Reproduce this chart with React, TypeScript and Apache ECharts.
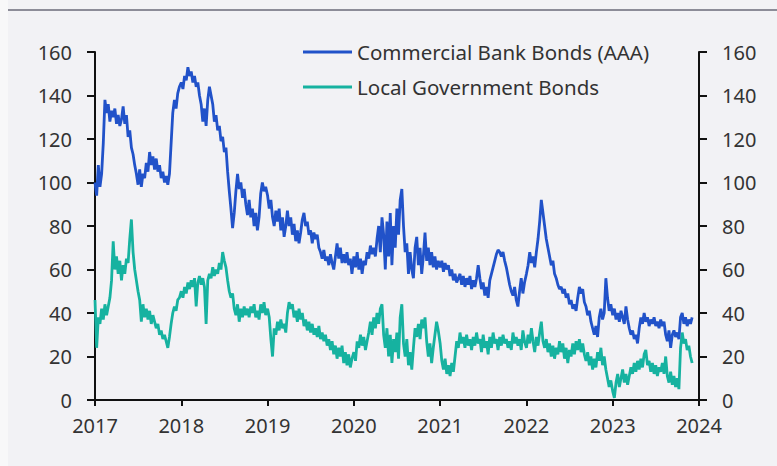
import React, { useEffect, useRef } from "react";
import * as echarts from "echarts";

// Weekly readings, 52 per year starting 2017
const commercialBank: number[] = [
  // 2017
  100, 94, 108, 98, 104, 118, 138, 132, 136, 128, 133, 130, 134, 127, 131, 126, 129, 135, 127, 131, 121, 124, 116, 113, 108, 104,
  99, 106, 98, 104, 102, 109, 105, 114, 108, 112, 106, 111, 105, 108, 102, 105, 100, 103, 99, 104, 118, 132, 138, 134, 141, 144,
  // 2018
  146, 143, 149, 147, 153, 149, 151, 146, 149, 144, 146, 140, 136, 128, 134, 126, 138, 144, 140, 136, 128, 131, 124, 126, 119, 121,
  114, 116, 105, 96, 88, 79, 86, 96, 104, 97, 100, 93, 97, 90, 85, 92, 84, 88, 80, 86, 78, 84, 95, 100, 96, 98,
  // 2019
  94, 88, 92, 84, 80, 87, 82, 88, 78, 84, 75, 80, 87, 80, 84, 76, 81, 73, 78, 72, 77, 83, 86, 80, 82, 76,
  78, 72, 77, 74, 76, 70, 68, 65, 69, 64, 66, 62, 67, 63, 60, 66, 72, 65, 70, 63, 67, 63, 68, 62, 65, 58,
  // 2020
  66, 61, 68, 60, 65, 58, 64, 62, 68, 65, 71, 67, 70, 66, 74, 80, 68, 84, 76, 60, 82, 66, 86, 62, 80, 70,
  88, 76, 92, 97, 80, 68, 72, 58, 68, 60, 56, 70, 75, 62, 70, 58, 66, 77, 64, 70, 62, 68, 61, 66, 60, 64,
  // 2021
  61, 64, 59, 63, 60, 62, 57, 60, 55, 58, 54, 56, 58, 53, 57, 52, 56, 53, 57, 51, 55, 52, 56, 62, 56, 51,
  54, 48, 52, 47, 55, 58, 61, 64, 67, 69, 68, 66, 68, 64, 61, 57, 53, 50, 48, 52, 46, 43, 50, 56, 49, 54,
  // 2022
  58, 62, 68, 63, 66, 61, 68, 74, 82, 92, 86, 80, 74, 70, 66, 62, 64, 58, 56, 53, 51, 52, 49, 51, 47, 49,
  44, 46, 42, 44, 41, 47, 52, 49, 51, 45, 43, 39, 41, 36, 33, 30, 34, 29, 38, 42, 37, 40, 56, 47, 41, 44,
  // 2023
  39, 42, 37, 40, 36, 41, 38, 35, 43, 37, 33, 30, 32, 28, 30, 26, 33, 38, 35, 40, 36, 38, 34, 37, 35, 38,
  34, 36, 33, 37, 34, 36, 30, 27, 32, 24, 30, 32, 29, 31, 28, 38, 40, 35, 38, 34, 37, 35, 38,
];

const localGovernment: number[] = [
  // 2017
  46, 24, 38, 35, 42, 37, 44, 39, 43, 47, 55, 73, 60, 66, 58, 64, 55, 62, 58, 65, 63, 74, 83, 68, 60, 55,
  50, 46, 36, 44, 38, 42, 37, 41, 35, 39, 36, 33, 35, 30, 32, 28, 30, 27, 24, 29, 35, 40, 43, 41, 46, 47,
  // 2018
  50, 47, 52, 49, 54, 51, 55, 52, 56, 43, 54, 57, 53, 56, 52, 35, 55, 58, 56, 61, 57, 60, 58, 63, 60, 68,
  64, 61, 55, 50, 47, 49, 42, 39, 44, 36, 42, 38, 43, 39, 42, 38, 43, 40, 44, 38, 41, 37, 44, 40, 45, 39,
  // 2019
  42, 38, 28, 20, 33, 30, 36, 32, 37, 33, 35, 31, 40, 45, 42, 44, 38, 41, 36, 42, 37, 40, 34, 37, 32, 36,
  31, 35, 30, 33, 29, 34, 28, 31, 27, 30, 25, 28, 23, 27, 21, 25, 19, 24, 20, 25, 17, 22, 16, 21, 15, 19,
  // 2020
  22, 18, 27, 24, 30, 25, 29, 23, 27, 31, 36, 30, 38, 33, 40, 35, 42, 44, 30, 24, 33, 20, 30, 17, 28, 22,
  31, 19, 38, 44, 26, 20, 28, 16, 22, 14, 24, 33, 29, 35, 28, 37, 33, 38, 27, 20, 26, 17, 24, 30, 36, 32,
  // 2021
  26, 18, 14, 19, 12, 16, 11, 17, 13, 20, 27, 24, 31, 26, 29, 24, 30, 25, 28, 23, 29, 25, 31, 26, 28, 22,
  30, 24, 27, 21, 29, 24, 31, 26, 28, 23, 29, 25, 30, 26, 28, 24, 27, 23, 31, 26, 29, 25, 28, 23, 32, 27,
  // 2022
  24, 30, 26, 33, 27, 22, 29, 25, 31, 36, 27, 24, 28, 22, 26, 20, 25, 19, 24, 21, 27, 22, 26, 19, 24, 17,
  23, 20, 26, 21, 27, 23, 28, 22, 26, 21, 18, 22, 16, 20, 14, 19, 15, 22, 18, 24, 16, 20, 14, 10, 6, 9,
  // 2023
  4, 1, 8, 12, 6, 10, 14, 8, 12, 7, 11, 15, 12, 17, 13, 18, 14, 19, 15, 21, 23, 16, 18, 13, 17, 12,
  16, 11, 15, 13, 17, 12, 20, 11, 8, 13, 7, 11, 6, 10, 5, 24, 31, 26, 28, 23, 25, 20, 17,
];

const yearTicks: number[] = [2017, 2018, 2019, 2020, 2021, 2022, 2023, 2024];
const seriesNames: string[] = ["Commercial Bank Bonds (AAA)", "Local Government Bonds"];

const toXY = (vals: number[]) =>
  vals.map((v, i) => [2017 + Math.floor(i / 52) + ((i % 52) * 7) / 365, v]);

export default function App() {
  const ref = useRef<HTMLDivElement>(null);
  useEffect(() => {
    if (!ref.current) return;
    const chart = echarts.init(ref.current, null, { renderer: "svg" });
    const font = "'Noto Sans', sans-serif";
    const labelStyle = { color: "#333", fontSize: 20, fontFamily: font };
    const yCommon = {
      type: "value" as const,
      min: 0,
      max: 160,
      interval: 20,
      splitLine: { show: false },
      axisLine: { show: true, lineStyle: { color: "#111", width: 2 } },
      axisTick: { show: true, length: 8, lineStyle: { color: "#111", width: 2 } },
      axisLabel: { ...labelStyle, margin: 23 },
    };
    chart.setOption({
      animation: false,
      backgroundColor: "#f2f2f5",
      textStyle: { fontFamily: font },
      graphic: [
        { type: "rect", shape: { x: 0, y: 0, width: 8, height: 466 }, style: { fill: "#f8f8f9" } },
        { type: "line", shape: { x1: 8, y1: 10, x2: 777, y2: 10 }, style: { stroke: "#8c8c98", lineWidth: 2 } },
      ],
      grid: { left: 95, right: 78, top: 52, bottom: 66 },
      legend: {
        orient: "vertical",
        left: 303,
        top: 41,
        padding: 0,
        icon: "rect",
        itemWidth: 49,
        itemHeight: 3,
        itemGap: 13,
        data: seriesNames,
        textStyle: { color: "#333", fontSize: 20.5, fontFamily: font, lineHeight: 22 },
      },
      xAxis: {
        type: "value",
        min: yearTicks[0],
        max: yearTicks[yearTicks.length - 1],
        interval: 1,
        splitLine: { show: false },
        axisLine: { show: true, lineStyle: { color: "#111", width: 2 } },
        axisTick: { show: true, length: 6, lineStyle: { color: "#111", width: 2 } },
        axisLabel: { ...labelStyle, margin: 15, formatter: (v: number) => String(v) },
      },
      yAxis: [
        { ...yCommon, position: "left" },
        { ...yCommon, position: "right" },
      ],
      series: [
        {
          name: seriesNames[0],
          type: "line",
          data: toXY(commercialBank),
          symbol: "none",
          lineStyle: { color: "#2152c9", width: 2.8 },
          itemStyle: { color: "#2152c9" },
          z: 3,
        },
        {
          name: seriesNames[1],
          type: "line",
          data: toXY(localGovernment),
          symbol: "none",
          lineStyle: { color: "#16b2a0", width: 2.8 },
          itemStyle: { color: "#16b2a0" },
          z: 2,
        },
      ],
    });
    return () => chart.dispose();
  }, []);
  return (
    <div
      ref={ref}
      style={{ position: "absolute", left: 0, top: 0, width: 777, height: 466 }}
    />
  );
}
